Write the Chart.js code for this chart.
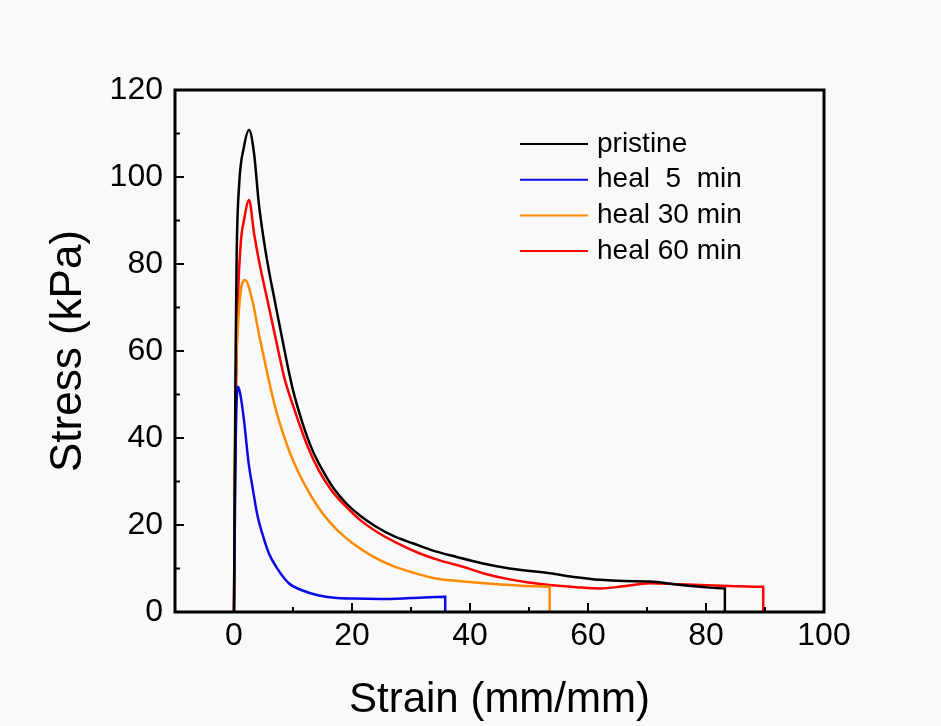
<!DOCTYPE html>
<html>
<head>
<meta charset="utf-8">
<script src="https://cdn.jsdelivr.net/npm/chart.js@4.4.1/dist/chart.umd.min.js"></script>
<style>
  html, body { margin: 0; padding: 0; background: #f9f9f9; }
  #wrap { width: 941px; height: 726px; }
</style>
</head>
<body>
<div id="wrap"><canvas id="grafico" width="941" height="726"></canvas></div>
<script>
// Valores (deformación en mm/mm, esfuerzo en kPa)
const seriesNames = ["pristine", "heal  5  min", "heal 30 min", "heal 60 min"];
const seriesColors = ["#000000", "#0a0ae6", "#ff8a00", "#ff0000"];

const pristineX = [0, 0.1, 0.28, 0.45, 0.85, 1.7, 2.55, 3.4, 4.2, 5.4, 7.1, 8.8, 10, 11.6, 13.2, 15, 17, 19, 21.5, 24.1, 27, 30.3, 34, 37.6, 42, 46.7, 53.5, 58, 62, 66, 70.5, 75, 79, 83.2, 83.2];
const pristineY = [0, 25, 59.5, 82, 97.8, 107, 110.8, 105.4, 94, 82.5, 70.2, 58.5, 51, 43.5, 37.5, 32.6, 28.2, 25, 22, 19.6, 17.5, 15.8, 14, 12.7, 11.2, 10.0, 8.9, 8.0, 7.4, 7.1, 7.0, 6.3, 5.8, 5.4, 0];

const heal5X = [0, 0.3, 0.73, 1.2, 1.7, 2.5, 3.1, 4.0, 4.8, 5.9, 7.1, 9.3, 11.5, 14.4, 17, 20.1, 25, 30, 35.8, 35.8];
const heal5Y = [0, 40, 51.8, 49, 44, 34, 29, 22, 18, 13.5, 10.5, 6.6, 5.0, 3.8, 3.3, 3.1, 3.0, 3.2, 3.5, 0];

const heal30X = [0, 0.1, 0.28, 0.57, 1.1, 1.87, 3.1, 4.2, 5.4, 6.2, 7.1, 8.2, 9.5, 11, 13, 15, 17.5, 20.1, 23.5, 26.9, 30.5, 34.2, 40, 46.7, 53.5, 53.5];
const heal30Y = [0, 25, 51.8, 63.3, 73.3, 76.3, 71.7, 64.1, 56.4, 51.5, 46.5, 41.5, 36.5, 31.9, 26.8, 22.7, 18.8, 15.8, 12.8, 10.6, 9.0, 7.7, 6.9, 6.2, 5.8, 0];

const heal60X = [0, 0.15, 0.57, 1.1, 1.7, 2.55, 3.4, 4.2, 5.9, 7.6, 8.5, 10.5, 12.5, 14.4, 16.5, 19, 21.5, 24.6, 28, 31.4, 35, 38.8, 42.5, 46.7, 50, 53.5, 58, 62, 66, 70.5, 75, 79, 84, 89.7, 89.7];
const heal60Y = [0, 30, 67, 84, 90.1, 94.7, 87, 81, 70.2, 59.5, 54, 45.5, 38, 32.5, 28, 24.2, 21, 18.1, 15.6, 13.5, 11.8, 10.4, 8.8, 7.5, 6.8, 6.2, 5.7, 5.4, 5.9, 6.6, 6.4, 6.2, 6.0, 5.8, 0];

const xTicks = [0, 20, 40, 60, 80, 100];
const yTicks = [0, 20, 40, 60, 80, 100, 120];
const xMinor = [-10, 10, 30, 50, 70, 90];
const yMinor = [10, 30, 50, 70, 90, 110];

const FUENTE = "'Liberation Sans', Arial, sans-serif";

function puntos(xs, ys) {
    return xs.map((x, i) => ({ x: x, y: ys[i] }));
}

const allX = [pristineX, heal5X, heal30X, heal60X];
const allY = [pristineY, heal5Y, heal30Y, heal60Y];

// Marco, marcas hacia dentro y leyenda
const marcoPlugin = {
    id: "marco",
    afterDatasetsDraw(chart) {
        const ctx = chart.ctx;
        const a = chart.chartArea;
        const sx = chart.scales.x;
        const sy = chart.scales.y;
        ctx.save();
        ctx.strokeStyle = "#000";
        ctx.lineWidth = 2;
        xTicks.forEach(v => {
            const px = sx.getPixelForValue(v);
            ctx.beginPath(); ctx.moveTo(px, a.bottom); ctx.lineTo(px, a.bottom - 9); ctx.stroke();
        });
        xMinor.forEach(v => {
            const px = sx.getPixelForValue(v);
            ctx.beginPath(); ctx.moveTo(px, a.bottom); ctx.lineTo(px, a.bottom - 5); ctx.stroke();
        });
        yTicks.forEach(v => {
            const py = sy.getPixelForValue(v);
            ctx.beginPath(); ctx.moveTo(a.left, py); ctx.lineTo(a.left + 9, py); ctx.stroke();
        });
        yMinor.forEach(v => {
            const py = sy.getPixelForValue(v);
            ctx.beginPath(); ctx.moveTo(a.left, py); ctx.lineTo(a.left + 5, py); ctx.stroke();
        });
        ctx.lineWidth = 3;
        ctx.strokeRect(a.left, a.top, a.right - a.left, a.bottom - a.top);

        // leyenda
        ctx.font = "28px " + FUENTE;
        ctx.textBaseline = "middle";
        ctx.textAlign = "left";
        const lx = a.left + 345, ly = a.top + 54, paso = 35.7;
        chart.data.datasets.forEach((ds, i) => {
            const y = ly + i * paso;
            ctx.strokeStyle = ds.borderColor;
            ctx.lineWidth = 2;
            ctx.beginPath(); ctx.moveTo(lx, y); ctx.lineTo(lx + 68, y); ctx.stroke();
            ctx.fillStyle = "#000";
            ctx.fillText(ds.label, lx + 77, y);
        });
        ctx.restore();
    }
};

const fondoPlugin = {
    id: "fondo",
    beforeDraw(chart) {
        const ctx = chart.ctx;
        ctx.save();
        ctx.fillStyle = "#f9f9f9";
        ctx.fillRect(0, 0, chart.width, chart.height);
        ctx.restore();
    }
};

new Chart(document.getElementById("grafico").getContext("2d"), {
    type: "line",
    data: {
        datasets: seriesNames.map((n, i) => ({
            label: n,
            data: puntos(allX[i], allY[i]),
            borderColor: seriesColors[i],
            borderWidth: 2.5,
            pointRadius: 0,
            cubicInterpolationMode: "monotone",
            fill: false
        }))
    },
    options: {
        responsive: false,
        animation: false,
        layout: { padding: { left: 0, top: 90, right: 117, bottom: 0 } },
        plugins: { legend: { display: false }, tooltip: { enabled: false } },
        scales: {
            x: {
                type: "linear",
                min: -10,
                max: 100,
                afterBuildTicks: s => { s.ticks = xTicks.map(v => ({ value: v })); },
                afterFit: s => { s.height = 114; },
                grid: { display: false, drawTicks: false },
                border: { display: false },
                ticks: { color: "#000", font: { family: FUENTE, size: 32 }, padding: 5, maxRotation: 0 },
                title: { display: true, text: "Strain (mm/mm)", color: "#000", font: { family: FUENTE, size: 42 }, padding: { top: 15, bottom: 0 } }
            },
            y: {
                min: 0,
                max: 120,
                afterBuildTicks: s => { s.ticks = yTicks.map(v => ({ value: v })); },
                afterFit: s => { s.width = 175; },
                grid: { display: false, drawTicks: false },
                border: { display: false },
                ticks: { color: "#000", font: { family: FUENTE, size: 32 }, padding: 12 },
                title: { display: true, text: "Stress (kPa)", color: "#000", font: { family: FUENTE, size: 44 }, padding: { top: 42, bottom: 0 } }
            }
        }
    },
    plugins: [fondoPlugin, marcoPlugin]
});
</script>
</body>
</html>
